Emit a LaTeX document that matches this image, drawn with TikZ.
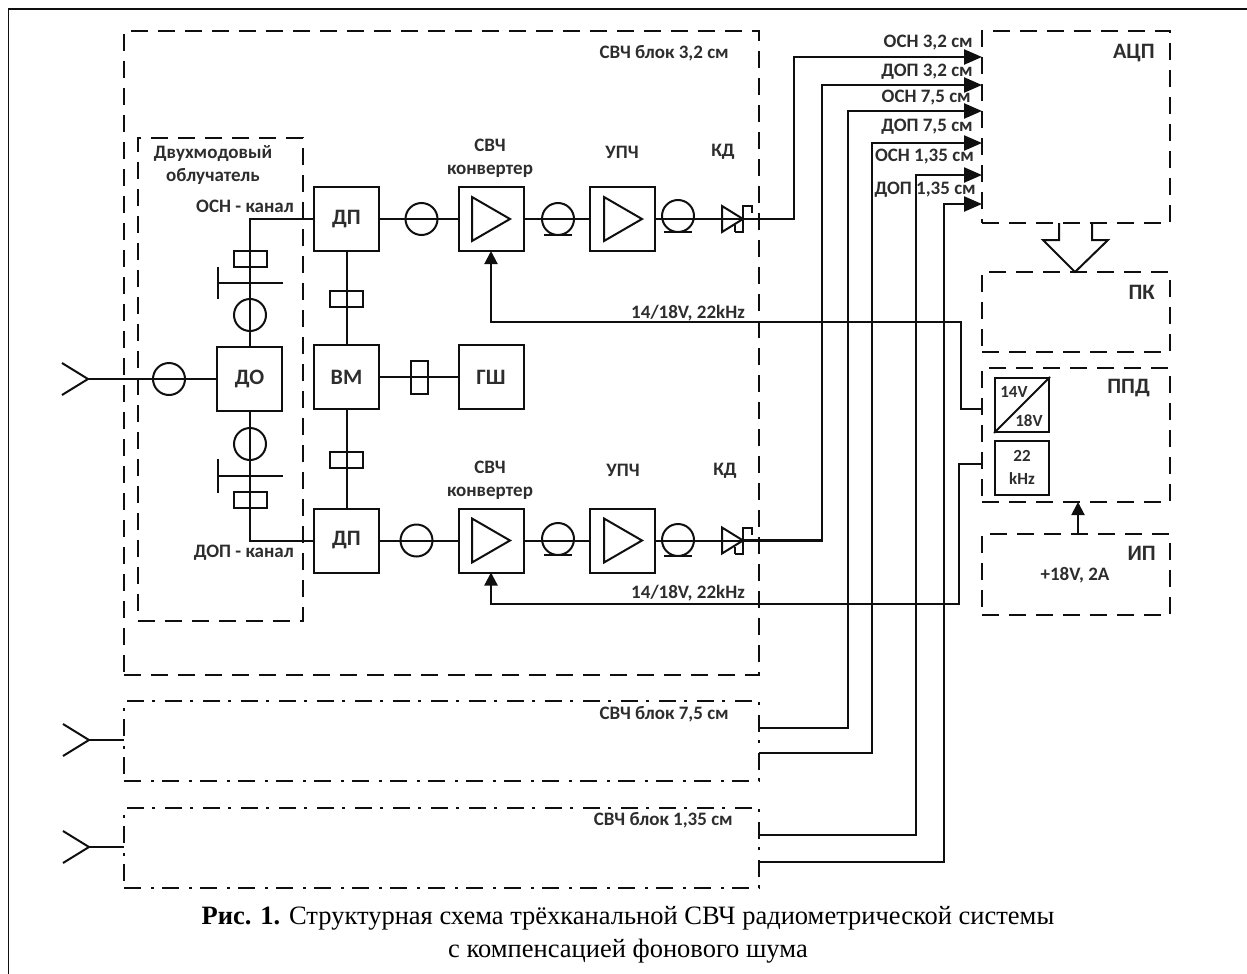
\documentclass[tikz,border=0pt]{standalone}
\usepackage{fontspec}
\setmainfont{Carlito}
\newfontfamily\capfont{Liberation Serif}
\usetikzlibrary{arrows.meta,positioning}
\definecolor{schemeInk}{RGB}{15,15,15}
\definecolor{labelInk}{RGB}{45,45,45}

\tikzset{
  ampl/.pic={\draw[wire] (-19,-22) -- (19,0) -- (-19,22) -- cycle;},
  kdiode/.pic={
    \draw[wire] (-21,-13) -- (0,0) -- (-21,13) -- cycle;
    \draw[wire] (-8,13) -- (0,13) -- (0,-13) -- (9,-13) -- (9,-6);
    \draw[wire] (-8,13) -- (-8,6);
  },
  horn/.pic={\draw[wire] (-26,-16) -- (0,0) -- (-26,16);}
}

\begin{document}
\begin{tikzpicture}[
  x=1pt, y=-1pt,
  font=\bfseries\fontsize{19}{21}\selectfont,
  wire/.style={line width=2pt, draw=schemeInk},
  power/.style={line width=2.3pt, draw=schemeInk},
  unit/.style={wire, inner sep=0pt, outer sep=0pt, minimum width=65pt, minimum height=64pt, text=labelInk, font=\bfseries\fontsize{22}{24}\selectfont},
  ring/.style={wire, circle, inner sep=0pt, outer sep=0pt, minimum size=32pt},
  isol/.style={wire, inner sep=0pt, outer sep=0pt, minimum width=33pt, minimum height=16pt},
  block/.style={line width=2pt, draw=schemeInk, dash pattern=on 17pt off 10pt, inner sep=0pt, outer sep=0pt},
  blockdot/.style={line width=2pt, draw=schemeInk, dash pattern=on 17pt off 10pt on 3pt off 8pt, inner sep=0pt, outer sep=0pt},
  tag/.style={text=labelInk, inner sep=0pt, anchor=east},
  ctag/.style={text=labelInk, inner sep=0pt, align=center},
  bigtag/.style={tag, font=\bfseries\fontsize{22}{24}\selectfont},
  arrow/.style={-{Triangle[length=18pt,width=15pt]}, power},
  feed/.style={-{Triangle[length=13pt,width=13pt]}, power},
  edge line/.style={line width=1.2pt, draw=schemeInk}
]
\useasboundingbox (0,0) rectangle (1247,974);
\draw[edge line] (8.5,974) -- (8.5,9) -- (1247,9);

% dashed blocks
\node[block, minimum width=635pt, minimum height=644pt] (blk32) at (441.5,353) {};
\node[block, minimum width=165pt, minimum height=483pt] (irr) at (220.5,379.5) {};
\node[blockdot, minimum width=635pt, minimum height=80pt] (blk75) at (441.5,741) {};
\node[blockdot, minimum width=635pt, minimum height=80pt] (blk135) at (441.5,848) {};
\node[block, minimum width=188pt, minimum height=192pt] (adc) at (1076,127) {};
\node[block, minimum width=188pt, minimum height=80pt] (pc) at (1076,312) {};
\node[block, minimum width=188pt, minimum height=134pt] (ppd) at (1076,435) {};
\node[block, minimum width=188pt, minimum height=81pt] (psu) at (1076,574.5) {};

% units
\node[unit, draw] (dpA) at (346.5,219) {ДП};
\node[unit, draw] (vm) at (346.5,377) {ВМ};
\node[unit, draw] (dpB) at (346.5,540.5) {ДП};
\node[unit, draw] (dou) at (249.5,379) {ДО};
\node[unit, draw] (gsh) at (491,377) {ГШ};
\node[unit, draw] (convA) at (491,219) {};
\node[unit, draw] (ifA) at (622,219) {};
\node[unit, draw] (convB) at (491,540.5) {};
\node[unit, draw] (ifB) at (622,540.5) {};
\pic at (491,219) {ampl};
\pic at (623,219) {ampl};
\pic at (491,540.5) {ampl};
\pic at (623,540.5) {ampl};

% rings and isolators
\node[ring, draw] (ringIn) at (169,379) {};
\node[ring, draw] (ringUp) at (250,315) {};
\node[ring, draw] (ringDn) at (250,444) {};
\node[ring, draw] (ringA) at (421.5,219) {};
\node[ring, draw] (ringB) at (416.5,540.5) {};
\node[ring, draw] (coilA) at (558,219) {};
\node[ring, draw] (coilB) at (558,539) {};
\node[ring, draw] (coilC) at (678,216) {};
\node[ring, draw] (coilD) at (678,540) {};
\node[isol, draw] (isoUp) at (250,259) {};
\node[isol, draw] (isoDn) at (250,500) {};
\node[isol, draw] (isoA) at (346.5,299) {};
\node[isol, draw] (isoB) at (346.5,460) {};
\node[isol, draw, minimum width=17pt, minimum height=33pt] (isoN) at (419.5,377) {};

\coordinate (kdA) at (743,219);
\coordinate (kdB) at (743,540.5);
\coordinate (cornerUp) at (250,219);
\coordinate (cornerDn) at (250,540.5);
\coordinate (hornA) at (88,379);
\coordinate (hornB) at (89,740);
\coordinate (hornC) at (89,847);
\coordinate (tapB) at (124,740);
\coordinate (tapC) at (124,847);
\pic at (hornA) {horn};
\pic at (hornB) {horn};
\pic at (hornC) {horn};
\pic at (kdA) {kdiode};
\pic at (kdB) {kdiode};

% coil feet
\draw[wire] ([xshift=-14pt]coilA.south) -- ([xshift=14pt]coilA.south);
\draw[wire] ([xshift=-14pt]coilB.south) -- ([xshift=14pt]coilB.south);
\draw[wire] ([xshift=-14pt]coilC.south) -- ([xshift=14pt]coilC.south);
\draw[wire] ([xshift=-14pt]coilD.south) -- ([xshift=14pt]coilD.south);

% waveguide stubs
\coordinate (stubUp) at (250,283);
\coordinate (stubDn) at (250,476);
\draw[wire] (218,283) -- (283,283);
\draw[wire] (218,267) -- (218,299);
\draw[wire] (218,476) -- (283,476);
\draw[wire] (218,459) -- (218,493);

% wiring
\draw[wire] (hornA) -- (ringIn.center) -- (dou.west);
\draw[wire] (250,347) -- (ringUp.center) -- (stubUp) -- (isoUp.center) -- (cornerUp) -- (dpA.west);
\draw[wire] (250,411) -- (ringDn.center) -- (stubDn) -- (isoDn.center) -- (cornerDn) -- (dpB.west);
\draw[wire] (dpA.south) -- (isoA.center) -- (vm.north);
\draw[wire] (vm.south) -- (isoB.center) -- (dpB.north);
\draw[wire] (vm.east) -- (isoN.center) -- (gsh.west);
\draw[wire] (dpA.east) -- (ringA.center) -- (convA.west);
\draw[wire] (convA.east) -- (coilA.center) -- (ifA.west);
\draw[wire] (ifA.east) -- (kdA);
\draw[wire] (dpB.east) -- (ringB.center) -- (convB.west);
\draw[wire] (convB.east) -- (ifB.west);
\draw[wire] (ifB.east) -- (kdB);
\draw[wire] (hornB) -- (tapB);
\draw[wire] (hornC) -- (tapC);

% outputs to the ADC
\coordinate (inA) at (982,57);
\coordinate (inB) at (982,85);
\coordinate (inC) at (982,111);
\coordinate (inD) at (982,143);
\coordinate (inE) at (982,175);
\coordinate (inF) at (982,204);
\coordinate (outC) at (759,728);
\coordinate (outD) at (759,753);
\coordinate (outE) at (759,835);
\coordinate (outF) at (759,862);
\draw[arrow] (kdA) -- (794,219) |- (inA);
\draw[arrow] (kdB) -- (822,540.5) |- (inB);
\draw[arrow] (outC) -- (848,728) |- (inC);
\draw[arrow] (outD) -- (872,753) |- (inD);
\draw[arrow] (outE) -- (916,835) |- (inE);
\draw[arrow] (outF) -- (944,862) |- (inF);

% power feeds
\node[wire, draw, inner sep=0pt, minimum size=54pt] (sw) at (1022,405) {};
\node[ctag, draw, wire, minimum size=54pt, text width=54pt, font=\bfseries\fontsize{17}{23}\selectfont] (tone) at (1022,467.5) {22\\kHz};
\draw[wire] (sw.south west) -- (sw.north east);
\node[ctag, font=\bfseries\fontsize{17}{18}\selectfont] (swA) at (1014,392) {14V};
\node[ctag, font=\bfseries\fontsize{17}{18}\selectfont] (swB) at (1029,421) {18V};
\coordinate (pwrA) at (982,409);
\coordinate (pwrB) at (982,464);
\draw[feed, wire] (pwrA) -- (961,409) |- (700,322) -| (convA.south);
\draw[feed] (pwrB) -- (959,464) |- (700,604) -| (convB.south);
\draw[feed, wire] (psu.north -| 1078,0) -- (ppd.south -| 1078,0);

% wide bus
\draw[wire] (1059,223) -- (1059,240) -- (1043,240) -- (1075,272) -- (1108,240) -- (1092,240) -- (1092,223);

% labels
\node[tag] (tBlkA) at (729,53) {СВЧ блок 3,2 см};
\node[tag] (tBlkB) at (729,714) {СВЧ блок 7,5 см};
\node[tag] (tBlkC) at (733,820) {СВЧ блок 1,35 см};
\node[tag] (tOutA) at (973,43) {ОСН 3,2 см};
\node[tag] (tOutB) at (973,72) {ДОП 3,2 см};
\node[tag] (tOutC) at (971,98) {ОСН 7,5 см};
\node[tag] (tOutD) at (973,127) {ДОП 7,5 см};
\node[tag] (tOutE) at (974,157) {ОСН 1,35 см};
\node[tag] (tOutF) at (976,190) {ДОП 1,35 см};
\node[ctag] (tIrr) at (213,165.5) {Двухмодовый\\[2pt]облучатель};
\node[tag] (tOsn) at (294,206) {ОСН - канал};
\node[tag] (tDop) at (294,553) {ДОП - канал};
\node[ctag] (tConvA) at (490,158.5) {СВЧ\\[2pt]конвертер};
\node[ctag] (tUpchA) at (622,152) {УПЧ};
\node[ctag] (tKdA) at (723,152) {КД};
\node[ctag] (tConvB) at (490,480) {СВЧ\\[2pt]конвертер};
\node[ctag] (tUpchB) at (623,470) {УПЧ};
\node[ctag] (tKdB) at (725,471) {КД};
\node[tag] (tPwrA) at (745,313) {14/18V, 22kHz};
\node[tag] (tPwrB) at (745,593) {14/18V, 22kHz};
\node[bigtag] (tAdc) at (1155,53) {АЦП};
\node[bigtag] (tPc) at (1155,292) {ПК};
\node[bigtag] (tPpd) at (1150,388) {ППД};
\node[bigtag] (tPsu) at (1156,553) {ИП};
\node[ctag] (tVolt) at (1075,575) {+18V, 2A};

\node[inner sep=0pt, align=center, font=\capfont\fontsize{26.5}{33}\selectfont] (caption) at (628,935) {\textbf{Рис. 1.} Структурная схема трёхканальной СВЧ радиометрической системы\\с компенсацией фонового шума};
\end{tikzpicture}
\end{document}
